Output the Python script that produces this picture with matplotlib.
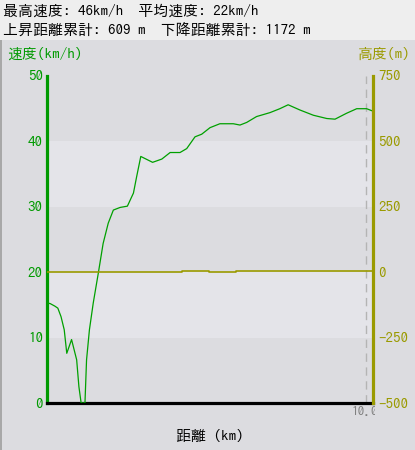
import matplotlib
matplotlib.use("Agg")
import matplotlib.pyplot as plt
from matplotlib.patches import Rectangle
from matplotlib.transforms import Bbox, TransformedBbox, blended_transform_factory, ScaledTranslation

plt.rcParams['font.family'] = ['IPAGothic', 'Noto Sans CJK JP', 'DejaVu Sans']
plt.rcParams['axes.unicode_minus'] = False

# ---- data ----
dist = [0.00, 0.10, 0.25, 0.34, 0.44, 0.54, 0.62, 0.77, 0.93, 1.00, 1.07, 1.19,
        1.24, 1.33, 1.45, 1.61, 1.76, 1.92, 2.08, 2.29, 2.52, 2.71, 2.81, 2.94,
        3.31, 3.60, 3.86, 4.17, 4.38, 4.64, 4.85, 5.11, 5.42, 5.84, 6.05, 6.26,
        6.57, 6.99, 7.30, 7.56, 7.93, 8.35, 8.77, 9.03, 9.39, 9.71, 10.02, 10.18]
speed = [15.3, 15.2, 14.8, 14.5, 13.2, 11.2, 7.6, 9.7, 6.6, 2.5, 0.0, 0.0,
         6.6, 11.2, 15.3, 19.9, 24.4, 27.5, 29.5, 29.9, 30.1, 32.1, 34.6, 37.7,
         36.8, 37.3, 38.3, 38.3, 38.9, 40.7, 41.1, 42.1, 42.7, 42.7, 42.5, 42.9,
         43.8, 44.4, 45.0, 45.6, 44.8, 44.0, 43.5, 43.4, 44.3, 45.0, 45.0, 44.7]
elev_dist = [0.0, 4.22, 4.22, 5.08, 5.08, 5.92, 5.92, 10.22]
elev = [0, 0, 3, 3, 0, 0, 3, 3]

speed_ticks = [0, 10, 20, 30, 40, 50]
elev_ticks = [-500, -250, 0, 250, 500, 750]
x_tick = 10.0
x_tick_label = "10.0"
header1 = "最高速度: 46km/h  平均速度: 22km/h"
header2 = "上昇距離累計: 609 m  下降距離累計: 1172 m"

GREEN = '#009a00'
LINE_GREEN = '#00a000'
OLIVE = '#9a9a00'
BG = '#dcdce0'
BAND = '#e4e4e9'
HEAD = '#eeeeee'
FS = 10.8

W, H = 415, 450
fig = plt.figure(figsize=(W / 100, H / 100), dpi=100)
fig.patch.set_facecolor(BG)

# header area and left border
fig.patches.append(Rectangle((0, 1 - 40 / H), 1, 40 / H, transform=fig.transFigure,
                             facecolor=HEAD, edgecolor='none', zorder=0))
fig.patches.append(Rectangle((0, 0), 2 / W, 1 - 40 / H, transform=fig.transFigure,
                             facecolor='#a8a8a8', edgecolor='none', zorder=0))

L, R, B, T = 47, 373, 403, 76
ax = fig.add_axes([L / W, (H - B) / H, (R - L) / W, (B - T) / H])
ax.set_facecolor(BG)
ax.set_xlim(0, 10.22)
ax.set_ylim(0, 50)
for lo, hi in [(10, 20), (30, 40)]:
    ax.axhspan(lo, hi, color=BAND, zorder=0, lw=0)
ax.axvline(x_tick, color='#b4b4b4', lw=1.0, dashes=(6, 4), zorder=1)

ax.plot(dist, speed, color=LINE_GREEN, lw=0.9, zorder=3)

ax2 = ax.twinx()
ax2.set_ylim(-500, 750)
ax2.plot(elev_dist, elev, color=OLIVE, lw=1.2, zorder=2)

for a in (ax, ax2):
    a.spines['top'].set_visible(False)
ax.spines['right'].set_visible(False)
ax.spines['left'].set_color(GREEN)
ax.spines['left'].set_linewidth(2.3)
ax.spines['bottom'].set_color('black')
ax.spines['bottom'].set_linewidth(2.3)
ax2.spines['left'].set_visible(False)
ax2.spines['bottom'].set_visible(False)
ax2.spines['right'].set_color(OLIVE)
ax2.spines['right'].set_linewidth(2.3)

ax.set_yticks(speed_ticks)
ax.set_yticklabels([str(v) for v in speed_ticks], color=GREEN, fontsize=FS)
ax.tick_params(axis='y', length=0, pad=3)
ax.set_xticks([])
ax2.set_yticks(elev_ticks)
ax2.set_yticklabels([str(v) for v in elev_ticks], color=OLIVE, fontsize=FS)
ax2.tick_params(axis='y', length=0, pad=4)

# x tick label, clipped at the right axis like the reference
trans = blended_transform_factory(ax.transData, fig.transFigure) + \
    ScaledTranslation(-1.5 / 100, 0, fig.dpi_scale_trans)
t = fig.text(x_tick, 1 - 406 / H, x_tick_label, transform=trans, ha='center', va='top',
             color='#808080', fontsize=9.6, clip_on=True)
t.set_clip_box(TransformedBbox(Bbox([[0, 0], [(R + 1.5) / W, 1]]), fig.transFigure))

# labels
fig.text(3 / W, 1 - 10 / H, header1, fontsize=FS, va='center', ha='left', color='black')
fig.text(3 / W, 1 - 29 / H, header2, fontsize=FS, va='center', ha='left', color='black')
fig.text(7 / W, 1 - 53 / H, "速度(km/h)", fontsize=FS, va='center', ha='left', color=GREEN)
fig.text(411 / W, 1 - 53 / H, "高度(m)", fontsize=FS, va='center', ha='right', color=OLIVE)
fig.text(210 / W, 1 - 436 / H, "距離 (km)", fontsize=FS, va='center', ha='center', color='black')

fig.savefig("out.png", dpi=100, facecolor=fig.get_facecolor())
